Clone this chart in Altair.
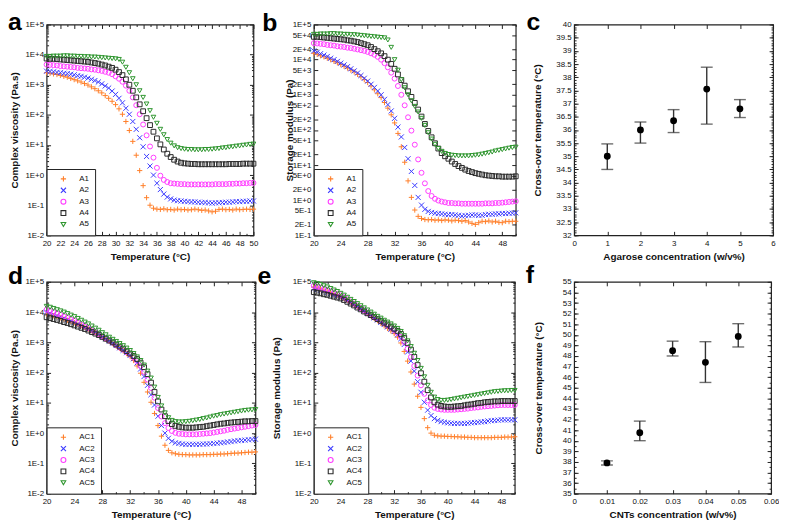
import altair as alt
import numpy as np
import pandas as pd

# ---------------------------------------------------------------- data
# measurement grid (°C) shared by every rheology curve
TEMPS = np.round(np.arange(20.0, 50.01, 0.5), 1).tolist()

SERIES_A = ["A1", "A2", "A3", "A4", "A5"]
SERIES_AC = ["AC1", "AC2", "AC3", "AC4", "AC5"]

# panel a: complex viscosity (log10 Pa.s)
VISC_A1 = [3.40, 3.38, 3.36, 3.34, 3.31, 3.28, 3.25, 3.21, 3.17, 3.13,
           3.09, 3.04, 2.99, 2.93, 2.87, 2.80, 2.73, 2.64, 2.55, 2.45,
           2.34, 2.20, 2.02, 1.78, 1.48, 1.12, 0.66, 0.15, -0.35, -0.75,
           -1.00, -1.10, -1.13, -1.14, -1.12, -1.15, -1.14, -1.16, -1.13, -1.15,
           -1.14, -1.16, -1.15, -1.13, -1.15, -1.17, -1.16, -1.19, -1.22, -1.20,
           -1.14, -1.13, -1.15, -1.14, -1.16, -1.13, -1.15, -1.14, -1.13, -1.14,
           -1.13]
VISC_A2 = [3.45, 3.44, 3.43, 3.41, 3.40, 3.38, 3.37, 3.35, 3.33, 3.30,
           3.28, 3.25, 3.22, 3.18, 3.14, 3.09, 3.03, 2.96, 2.89, 2.79,
           2.68, 2.55, 2.40, 2.22, 2.02, 1.78, 1.52, 1.24, 0.94, 0.62,
           0.30, 0.00, -0.27, -0.48, -0.63, -0.73, -0.79, -0.83, -0.85, -0.86,
           -0.87, -0.88, -0.89, -0.89, -0.90, -0.91, -0.91, -0.92, -0.93, -0.92,
           -0.92, -0.91, -0.90, -0.90, -0.89, -0.88, -0.88, -0.87, -0.87, -0.86,
           -0.86]
VISC_A3 = [3.67, 3.66, 3.65, 3.64, 3.62, 3.61, 3.60, 3.59, 3.58, 3.56,
           3.55, 3.54, 3.53, 3.51, 3.50, 3.48, 3.46, 3.43, 3.40, 3.35,
           3.28, 3.20, 3.10, 2.97, 2.80, 2.58, 2.32, 2.02, 1.68, 1.32,
           0.95, 0.58, 0.24, -0.02, -0.16, -0.23, -0.27, -0.28, -0.29, -0.30,
           -0.30, -0.31, -0.31, -0.31, -0.31, -0.31, -0.31, -0.31, -0.31, -0.30,
           -0.30, -0.30, -0.30, -0.29, -0.29, -0.28, -0.28, -0.27, -0.27, -0.26,
           -0.26]
VISC_A4 = [3.87, 3.86, 3.86, 3.85, 3.84, 3.83, 3.82, 3.81, 3.80, 3.79,
           3.78, 3.77, 3.76, 3.74, 3.72, 3.70, 3.67, 3.64, 3.60, 3.56,
           3.50, 3.42, 3.32, 3.18, 3.00, 2.80, 2.58, 2.35, 2.12, 1.89,
           1.66, 1.44, 1.22, 1.02, 0.85, 0.71, 0.60, 0.51, 0.45, 0.41,
           0.39, 0.38, 0.37, 0.37, 0.36, 0.36, 0.36, 0.36, 0.36, 0.36,
           0.36, 0.36, 0.36, 0.37, 0.37, 0.37, 0.37, 0.38, 0.38, 0.38,
           0.38]
VISC_A5 = [3.94, 3.94, 3.95, 3.95, 3.95, 3.96, 3.96, 3.95, 3.95, 3.94,
           3.94, 3.93, 3.93, 3.92, 3.92, 3.91, 3.90, 3.89, 3.88, 3.87,
           3.86, 3.84, 3.75, 3.58, 3.40, 3.20, 3.00, 2.80, 2.58, 2.36,
           2.14, 1.92, 1.72, 1.52, 1.34, 1.18, 1.06, 0.97, 0.91, 0.88,
           0.86, 0.85, 0.85, 0.84, 0.84, 0.84, 0.85, 0.85, 0.86, 0.87,
           0.88, 0.90, 0.91, 0.93, 0.94, 0.96, 0.97, 0.99, 1.00, 1.02,
           1.03]

# panel b: storage modulus (log10 Pa)
MOD_A1 = [4.18, 4.15, 4.11, 4.08, 4.04, 4.00, 3.95, 3.91, 3.86, 3.81,
          3.76, 3.70, 3.65, 3.58, 3.51, 3.43, 3.35, 3.25, 3.14, 3.03,
          2.92, 2.78, 2.62, 2.43, 2.20, 1.90, 1.52, 1.08, 0.55, 0.08,
          -0.28, -0.46, -0.52, -0.55, -0.56, -0.55, -0.57, -0.56, -0.58, -0.56,
          -0.57, -0.59, -0.57, -0.58, -0.60, -0.58, -0.62, -0.66, -0.69, -0.64,
          -0.60, -0.61, -0.59, -0.62, -0.60, -0.63, -0.64, -0.60, -0.61, -0.60,
          -0.60]
MOD_A2 = [4.25, 4.21, 4.17, 4.13, 4.09, 4.04, 4.00, 3.95, 3.90, 3.85,
          3.80, 3.74, 3.68, 3.62, 3.55, 3.47, 3.39, 3.30, 3.21, 3.11,
          3.00, 2.87, 2.72, 2.54, 2.33, 2.08, 1.80, 1.50, 1.18, 0.82,
          0.42, 0.08, -0.14, -0.26, -0.32, -0.35, -0.37, -0.38, -0.39, -0.40,
          -0.41, -0.41, -0.42, -0.43, -0.45, -0.44, -0.43, -0.42, -0.42, -0.43,
          -0.43, -0.41, -0.40, -0.40, -0.39, -0.39, -0.38, -0.38, -0.37, -0.37,
          -0.36]
MOD_A3 = [4.47, 4.46, 4.45, 4.44, 4.42, 4.41, 4.40, 4.38, 4.37, 4.36,
          4.34, 4.33, 4.31, 4.29, 4.27, 4.25, 4.22, 4.18, 4.14, 4.08,
          4.00, 3.90, 3.78, 3.63, 3.46, 3.25, 3.00, 2.70, 2.36, 1.98,
          1.58, 1.16, 0.78, 0.48, 0.26, 0.12, 0.04, -0.01, -0.04, -0.06,
          -0.08, -0.08, -0.09, -0.09, -0.10, -0.10, -0.10, -0.10, -0.10, -0.10,
          -0.10, -0.09, -0.09, -0.09, -0.08, -0.08, -0.07, -0.06, -0.05, -0.04,
          -0.03]
MOD_A4 = [4.65, 4.65, 4.64, 4.63, 4.62, 4.61, 4.60, 4.59, 4.58, 4.57,
          4.55, 4.54, 4.52, 4.50, 4.47, 4.44, 4.41, 4.36, 4.30, 4.24,
          4.18, 4.10, 4.00, 3.88, 3.74, 3.58, 3.42, 3.26, 3.10, 2.94,
          2.77, 2.58, 2.38, 2.17, 1.97, 1.79, 1.62, 1.47, 1.34, 1.25,
          1.18, 1.10, 1.03, 0.97, 0.92, 0.87, 0.83, 0.80, 0.77, 0.75,
          0.73, 0.71, 0.70, 0.69, 0.68, 0.68, 0.67, 0.67, 0.67, 0.67,
          0.68]
MOD_A5 = [4.72, 4.72, 4.73, 4.73, 4.73, 4.74, 4.74, 4.73, 4.73, 4.72,
          4.72, 4.71, 4.71, 4.70, 4.69, 4.68, 4.67, 4.66, 4.65, 4.64,
          4.63, 4.62, 4.56, 4.35, 4.00, 3.70, 3.43, 3.20, 3.00, 2.83,
          2.67, 2.51, 2.33, 2.13, 1.92, 1.74, 1.59, 1.47, 1.39, 1.33,
          1.30, 1.28, 1.27, 1.26, 1.26, 1.26, 1.26, 1.27, 1.28, 1.29,
          1.31, 1.33, 1.35, 1.37, 1.40, 1.42, 1.44, 1.46, 1.48, 1.50,
          1.51]

# panel d: complex viscosity with CNTs (log10 Pa.s)
VISC_AC1 = [3.94, 3.91, 3.88, 3.85, 3.81, 3.77, 3.73, 3.69, 3.65, 3.60,
            3.55, 3.50, 3.44, 3.38, 3.32, 3.25, 3.18, 3.11, 3.04, 2.96,
            2.88, 2.80, 2.72, 2.63, 2.53, 2.40, 2.22, 1.98, 1.68, 1.36,
            1.02, 0.65, 0.25, -0.10, -0.40, -0.57, -0.65, -0.68, -0.70, -0.71,
            -0.71, -0.72, -0.72, -0.72, -0.72, -0.71, -0.71, -0.71, -0.70, -0.70,
            -0.69, -0.69, -0.68, -0.67, -0.66, -0.66, -0.65, -0.64, -0.63, -0.63,
            -0.62]
VISC_AC2 = [4.00, 3.96, 3.92, 3.88, 3.84, 3.80, 3.75, 3.71, 3.66, 3.61,
            3.56, 3.50, 3.45, 3.39, 3.33, 3.26, 3.19, 3.12, 3.05, 2.98,
            2.90, 2.82, 2.74, 2.66, 2.57, 2.46, 2.32, 2.12, 1.87, 1.58,
            1.27, 0.93, 0.56, 0.25, 0.00, -0.17, -0.27, -0.32, -0.34, -0.36,
            -0.37, -0.37, -0.37, -0.37, -0.37, -0.36, -0.36, -0.35, -0.34, -0.33,
            -0.32, -0.31, -0.29, -0.28, -0.26, -0.25, -0.24, -0.23, -0.22, -0.21,
            -0.20]
VISC_AC3 = [4.08, 4.04, 4.00, 3.95, 3.91, 3.86, 3.81, 3.76, 3.71, 3.65,
            3.59, 3.53, 3.47, 3.41, 3.34, 3.27, 3.20, 3.13, 3.06, 2.99,
            2.91, 2.83, 2.76, 2.68, 2.60, 2.50, 2.38, 2.22, 2.02, 1.77,
            1.49, 1.17, 0.83, 0.55, 0.33, 0.17, 0.07, 0.01, -0.02, -0.03,
            -0.04, -0.04, -0.04, -0.04, -0.03, -0.02, -0.01, 0.00, 0.02, 0.04,
            0.06, 0.08, 0.11, 0.13, 0.15, 0.17, 0.19, 0.21, 0.23, 0.25,
            0.27]
VISC_AC4 = [3.83, 3.80, 3.77, 3.74, 3.71, 3.67, 3.64, 3.60, 3.56, 3.52,
            3.48, 3.44, 3.39, 3.34, 3.29, 3.24, 3.18, 3.12, 3.06, 3.00,
            2.93, 2.86, 2.79, 2.71, 2.63, 2.55, 2.45, 2.33, 2.18, 1.95,
            1.67, 1.36, 1.05, 0.78, 0.56, 0.40, 0.30, 0.24, 0.21, 0.19,
            0.18, 0.18, 0.18, 0.19, 0.20, 0.21, 0.23, 0.25, 0.27, 0.29,
            0.31, 0.32, 0.34, 0.35, 0.36, 0.37, 0.38, 0.39, 0.39, 0.40,
            0.40]
VISC_AC5 = [4.19, 4.16, 4.12, 4.08, 4.04, 4.00, 3.95, 3.90, 3.85, 3.79,
            3.73, 3.67, 3.61, 3.54, 3.47, 3.40, 3.32, 3.25, 3.17, 3.10,
            3.03, 2.96, 2.89, 2.81, 2.73, 2.63, 2.52, 2.40, 2.25, 2.05,
            1.82, 1.52, 1.18, 0.90, 0.67, 0.51, 0.42, 0.38, 0.37, 0.37,
            0.38, 0.39, 0.41, 0.43, 0.45, 0.48, 0.50, 0.53, 0.56, 0.58,
            0.61, 0.63, 0.65, 0.67, 0.69, 0.71, 0.73, 0.75, 0.76, 0.77,
            0.78]

# panel e: storage modulus with CNTs (log10 Pa)
MOD_AC1 = [4.82, 4.79, 4.76, 4.72, 4.68, 4.64, 4.60, 4.56, 4.51, 4.45,
           4.39, 4.32, 4.25, 4.18, 4.11, 4.04, 3.96, 3.88, 3.80, 3.72,
           3.63, 3.55, 3.46, 3.38, 3.29, 3.17, 2.98, 2.70, 2.38, 2.02,
           1.62, 1.22, 0.85, 0.48, 0.18, 0.00, -0.07, -0.09, -0.10, -0.10,
           -0.11, -0.11, -0.12, -0.12, -0.13, -0.13, -0.14, -0.14, -0.15, -0.15,
           -0.15, -0.15, -0.15, -0.15, -0.14, -0.14, -0.14, -0.13, -0.13, -0.13,
           -0.12]
MOD_AC2 = [4.78, 4.75, 4.72, 4.69, 4.65, 4.61, 4.57, 4.54, 4.50, 4.44,
           4.38, 4.32, 4.25, 4.18, 4.11, 4.04, 3.96, 3.89, 3.81, 3.74,
           3.66, 3.59, 3.51, 3.44, 3.36, 3.25, 3.12, 2.93, 2.68, 2.38,
           2.05, 1.70, 1.35, 1.02, 0.76, 0.58, 0.48, 0.42, 0.38, 0.36,
           0.34, 0.33, 0.32, 0.32, 0.32, 0.32, 0.33, 0.34, 0.35, 0.36,
           0.37, 0.38, 0.40, 0.41, 0.42, 0.43, 0.44, 0.44, 0.44, 0.44,
           0.44]
MOD_AC3 = [4.87, 4.84, 4.81, 4.77, 4.73, 4.69, 4.65, 4.60, 4.55, 4.49,
           4.42, 4.35, 4.28, 4.21, 4.13, 4.06, 3.98, 3.91, 3.84, 3.77,
           3.70, 3.63, 3.56, 3.49, 3.41, 3.31, 3.18, 3.01, 2.79, 2.52,
           2.22, 1.90, 1.58, 1.30, 1.08, 0.93, 0.84, 0.80, 0.78, 0.77,
           0.77, 0.77, 0.77, 0.78, 0.79, 0.80, 0.81, 0.83, 0.84, 0.85,
           0.87, 0.88, 0.89, 0.90, 0.91, 0.92, 0.93, 0.93, 0.93, 0.93,
           0.93]
MOD_AC4 = [4.66, 4.64, 4.62, 4.59, 4.57, 4.54, 4.51, 4.48, 4.45, 4.40,
           4.34, 4.28, 4.22, 4.15, 4.09, 4.02, 3.96, 3.90, 3.84, 3.77,
           3.71, 3.65, 3.59, 3.52, 3.45, 3.38, 3.28, 3.15, 2.98, 2.76,
           2.52, 2.25, 1.98, 1.70, 1.42, 1.18, 1.02, 0.94, 0.90, 0.88,
           0.87, 0.87, 0.88, 0.89, 0.90, 0.92, 0.94, 0.95, 0.97, 0.99,
           1.00, 1.02, 1.03, 1.04, 1.05, 1.05, 1.06, 1.06, 1.06, 1.06,
           1.06]
MOD_AC5 = [4.97, 4.94, 4.91, 4.87, 4.83, 4.78, 4.73, 4.68, 4.62, 4.56,
           4.49, 4.42, 4.35, 4.28, 4.21, 4.14, 4.07, 4.00, 3.93, 3.86,
           3.80, 3.73, 3.67, 3.61, 3.54, 3.46, 3.36, 3.22, 3.05, 2.86,
           2.64, 2.40, 2.14, 1.86, 1.58, 1.35, 1.19, 1.11, 1.08, 1.08,
           1.09, 1.11, 1.13, 1.15, 1.17, 1.19, 1.21, 1.23, 1.25, 1.27,
           1.29, 1.31, 1.33, 1.35, 1.37, 1.38, 1.39, 1.40, 1.40, 1.41,
           1.41]

# panel c: cross-over temperature vs agarose concentration
AGAROSE = [1, 2, 3, 4, 5]
AGAROSE_T = [35.0, 36.0, 36.35, 37.55, 36.8]
AGAROSE_LO = [34.5, 35.5, 35.9, 36.22, 36.47]
AGAROSE_HI = [35.47, 36.3, 36.77, 38.38, 37.15]

# panel f: cross-over temperature vs CNT concentration
CNT = [0.01, 0.02, 0.03, 0.04, 0.05]
CNT_T = [37.9, 40.75, 48.5, 47.4, 49.85]
CNT_LO = [37.7, 40.0, 48.0, 45.5, 48.85]
CNT_HI = [38.1, 41.85, 49.4, 49.35, 51.05]

# ---------------------------------------------------------------- style
FONT = "Liberation Sans"
FRAME = "#222222"
COLORS = ["#ff7f2a", "#3b3bff", "#ff3cff", "#2b2b2b", "#2f962f"]
SHAPES = ["M-1,0H1M0,-1V1", "M-1,-1L1,1M-1,1L1,-1", "circle", "square", "triangle-down"]
SIZES = [28, 22, 9, 18, 24]

DEC_EXPR = "'1E' + (datum.value >= 1 ? '+' : '-') + abs(round(log(datum.value) / LN10))"
MANT_EXPR = ("round(datum.value / pow(10, floor(log(datum.value) / LN10 + 0.000001))) + 'E' + "
             "(datum.value >= 1 ? '+' : '-') + abs(floor(log(datum.value) / LN10 + 0.000001))")


def decades(lo, hi):
    return [10.0 ** e for e in range(lo, hi + 1)]


def log_minor(lo, hi):
    return [m * 10.0 ** e for e in range(lo, hi) for m in range(2, 10)]


def tick_axis(orient, values, size):
    return alt.Axis(orient=orient, values=values, labels=False, domain=False, ticks=True,
                    tickSize=size, offset=-size, title=None, grid=False,
                    tickColor=FRAME, tickWidth=1)


def guide(df, xf, yf, xs, ys, xo, yo, xv, yv, size):
    xa = tick_axis(xo, xv, size) if xv else None
    ya = tick_axis(yo, yv, size) if yv else None
    return alt.Chart(df).mark_point(opacity=0).encode(
        x=alt.X(xf, type="quantitative", scale=xs, axis=xa),
        y=alt.Y(yf, type="quantitative", scale=ys, axis=ya))


def main_x(values, title, expr=None):
    kw = dict(orient="bottom", values=values, ticks=False, tickSize=0, domain=False, grid=False,
              labelPadding=4, labelFontSize=8, labelFlush=False, labelOverlap=False,
              title=title, titleFontSize=10, titleFontWeight="bold", titlePadding=4)
    if expr:
        kw["labelExpr"] = expr
    return alt.Axis(**kw)


def main_y(values, title, title_x, expr):
    return alt.Axis(orient="left", values=values, ticks=False, tickSize=0, domain=False, grid=False,
                    labelPadding=3, labelFontSize=8, labelOverlap=False, labelExpr=expr,
                    title=title, titleFontSize=10, titleFontWeight="bold", titleX=title_x)


def letter_layer(letter, dx, dy):
    return alt.Chart(pd.DataFrame({"L": [letter]})).mark_text(
        align="left", baseline="alphabetic", font=FONT, fontSize=25, fontWeight="bold",
        color="black").encode(text="L:N", x=alt.value(dx), y=alt.value(dy))


def curve_panel(names, cols, ydom, ymajor, yminor, yexpr, xlab, xmajor, xminor,
                ytitle, title_x, w, h, letter, ldx, ldy):
    rows = []
    for name, col in zip(names, cols):
        for t, lv in zip(TEMPS, col):
            rows.append({"T": t, "V": 10 ** lv, "S": name})
    df = pd.DataFrame(rows)
    corner = pd.DataFrame({"T": [20.0], "V": [ydom[0]]})
    xs = alt.Scale(domain=[20, 50], nice=False, zero=False)
    ys = alt.Scale(type="log", domain=ydom, nice=False)
    legend = alt.Legend(title=None, orient="bottom-left", offset=0, padding=6,
                        strokeColor=FRAME, fillColor="white", labelFontSize=8,
                        labelFont=FONT, labelColor="#111", symbolSize=20,
                        symbolStrokeWidth=1.1, symbolOffset=7, labelOffset=12,
                        rowPadding=1.5)
    pts = alt.Chart(df).mark_point(filled=False, strokeWidth=1, opacity=1).encode(
        x=alt.X("T:Q", scale=xs, axis=main_x(xlab, "Temperature (°C)")),
        y=alt.Y("V:Q", scale=ys, axis=main_y(ymajor, ytitle, title_x, yexpr)),
        color=alt.Color("S:N", scale=alt.Scale(domain=names, range=COLORS), legend=legend),
        shape=alt.Shape("S:N", scale=alt.Scale(domain=names, range=SHAPES), legend=legend),
        size=alt.Size("S:N", scale=alt.Scale(domain=names, range=SIZES), legend=None),
    )
    layers = [
        pts,
        guide(corner, "T", "V", xs, ys, "bottom", "left", xmajor, ymajor, 4),
        guide(corner, "T", "V", xs, ys, "top", "right", xmajor, ymajor, 4),
        guide(corner, "T", "V", xs, ys, "bottom", "left", xminor, yminor, 2),
        guide(corner, "T", "V", xs, ys, "top", "right", xminor, yminor, 2),
        letter_layer(letter, ldx, ldy),
    ]
    return alt.layer(*layers).resolve_axis(x="independent", y="independent").properties(
        width=w, height=h)


def scatter_panel(xv, mean, lo, hi, xdom, ydom, xlab, xminor, ylab, yminor,
                  xtitle, ytitle, title_x, w, h, letter, ldx, ldy):
    df = pd.DataFrame({"X": xv, "M": mean, "L": lo, "H": hi})
    corner = pd.DataFrame({"X": [xdom[0]], "M": [ydom[0]]})
    xs = alt.Scale(domain=xdom, nice=False, zero=False)
    ys = alt.Scale(domain=ydom, nice=False, zero=False)
    base = alt.Chart(df)
    bars = base.mark_rule(color="#333333", strokeWidth=1.4).encode(
        x=alt.X("X:Q", scale=xs, axis=main_x(xlab, xtitle, "'' + datum.value")),
        y=alt.Y("L:Q", scale=ys, axis=main_y(ylab, ytitle, title_x, "'' + datum.value")),
        y2="H:Q")
    cap_lo = base.mark_tick(orient="horizontal", size=12, thickness=1.4, color="#333333").encode(
        x=alt.X("X:Q", scale=xs, axis=None), y=alt.Y("L:Q", scale=ys, axis=None))
    cap_hi = base.mark_tick(orient="horizontal", size=12, thickness=1.4, color="#333333").encode(
        x=alt.X("X:Q", scale=xs, axis=None), y=alt.Y("H:Q", scale=ys, axis=None))
    dots = base.mark_circle(size=48, color="black", opacity=1).encode(
        x=alt.X("X:Q", scale=xs, axis=None), y=alt.Y("M:Q", scale=ys, axis=None))
    layers = [
        bars, cap_lo, cap_hi, dots,
        guide(corner, "X", "M", xs, ys, "bottom", "left", xlab, ylab, 4),
        guide(corner, "X", "M", xs, ys, "top", "right", xlab, ylab, 4),
        guide(corner, "X", "M", xs, ys, "bottom", "left", xminor, yminor, 2),
        guide(corner, "X", "M", xs, ys, "top", "right", xminor, yminor, 2),
        letter_layer(letter, ldx, ldy),
    ]
    return alt.layer(*layers).resolve_axis(x="independent", y="independent").properties(
        width=w, height=h)


X_EVERY2 = list(range(20, 51, 2))
X_ODD = list(range(21, 50, 2))
X_EVERY4 = list(range(20, 49, 4))
X_MID4 = list(range(22, 51, 4))
Y_B = sorted([m * 10.0 ** e for e in range(-1, 5) for m in (1, 2, 5)] + [1e5])

pa = curve_panel(SERIES_A, [VISC_A1, VISC_A2, VISC_A3, VISC_A4, VISC_A5],
                 [1e-2, 1e5], decades(-2, 5), log_minor(-2, 5), DEC_EXPR,
                 X_EVERY2, X_EVERY2, X_ODD, "Complex viscosity (Pa.s)", -27,
                 209, 213, "a", -39, 6)
pb = curve_panel(SERIES_A, [MOD_A1, MOD_A2, MOD_A3, MOD_A4, MOD_A5],
                 [1e-1, 1e5], Y_B, [], MANT_EXPR,
                 X_EVERY4, X_EVERY4, X_MID4, "Storage modulus (Pa)", -20,
                 204, 213, "b", -52, 7)
pc = scatter_panel(AGAROSE, AGAROSE_T, AGAROSE_LO, AGAROSE_HI, [0, 6], [32, 40],
                   list(range(0, 7)), [],
                   np.round(np.arange(32, 40.01, 0.5), 1).tolist(),
                   np.round(np.arange(32, 40.01, 0.1), 1).tolist(),
                   "Agarose concentration (w/v%)", "Cross-over temperature (°C)", -32,
                   201, 213, "c", -48, 6)
pd_ = curve_panel(SERIES_AC, [VISC_AC1, VISC_AC2, VISC_AC3, VISC_AC4, VISC_AC5],
                  [1e-2, 1e5], decades(-2, 5), log_minor(-2, 5), DEC_EXPR,
                  X_EVERY4, X_EVERY4, X_MID4, "Complex viscosity (Pa.s)", -27,
                  211, 214, "d", -39, 2)
pe = curve_panel(SERIES_AC, [MOD_AC1, MOD_AC2, MOD_AC3, MOD_AC4, MOD_AC5],
                 [1e-2, 1e5], decades(-2, 5), log_minor(-2, 5), DEC_EXPR,
                 X_EVERY4, X_EVERY4, X_MID4, "Storage modulus (Pa)", -33,
                 203, 214, "e", -57, 2)
pf = scatter_panel(CNT, CNT_T, CNT_LO, CNT_HI, [0, 0.06], [35, 55],
                   np.round(np.arange(0, 0.0601, 0.01), 2).tolist(), [],
                   list(range(35, 56)),
                   np.round(np.arange(35, 55.01, 0.5), 1).tolist(),
                   "CNTs concentration (w/v%)", "Cross-over temperature (°C)", -31,
                   199, 214, "f", -49, 1)

chart = alt.concat(pa, pb, pc, pd_, pe, pf, columns=3,
                   spacing=alt.RowColnumber(row=47, column=59),
                   bounds="flush", align="none")
chart = chart.resolve_scale(x="independent", y="independent", color="independent",
                            shape="independent", size="independent")
chart = chart.properties(
    autosize=alt.AutoSizeParams(type="none"),
    padding={"left": 39, "top": 14, "right": 740, "bottom": 504},
    background="white",
)
chart = chart.configure_view(stroke=FRAME, strokeWidth=1.2).configure_axis(
    labelFont=FONT, titleFont=FONT, labelColor="#111111", titleColor="#111111")

chart.save("out.html", embed_options={"renderer": "svg", "actions": False})
